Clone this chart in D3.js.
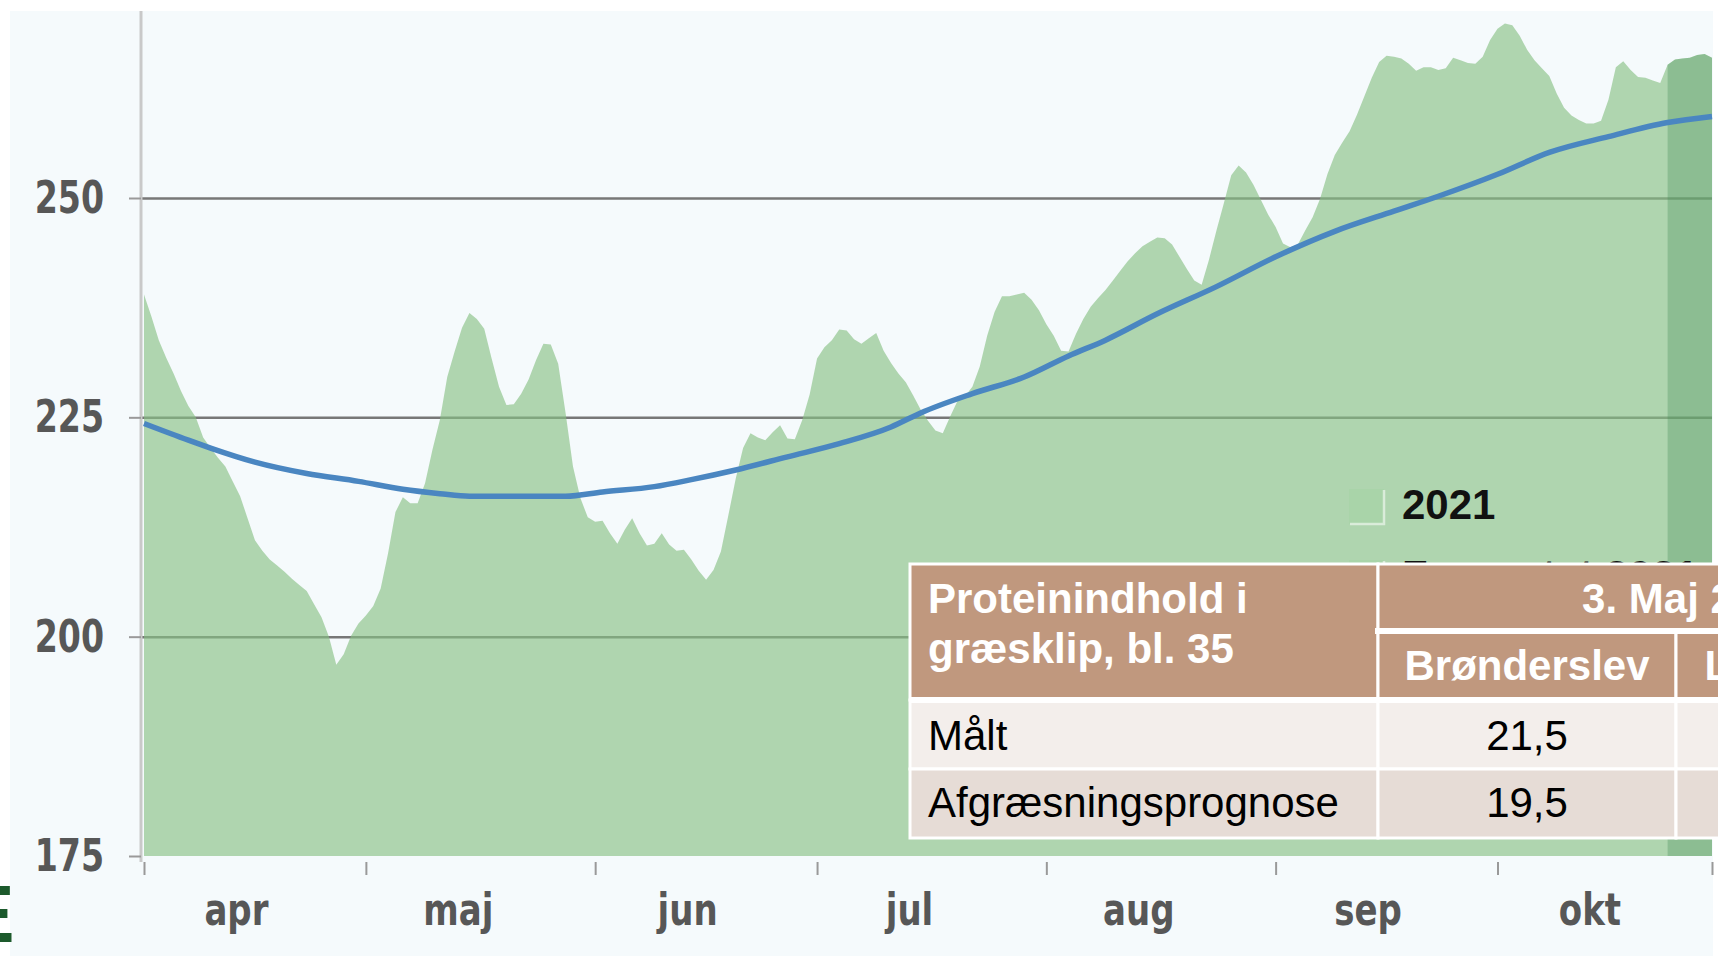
<!DOCTYPE html>
<html>
<head>
<meta charset="utf-8">
<script src="https://cdn.jsdelivr.net/npm/d3@7.9.0/dist/d3.min.js"></script>
<style>
  body { margin: 0; background: #fff; }
  svg { display: block; }
  .axis text { font-family: "Liberation Sans Narrow", "DejaVu Sans Condensed", "Arial Narrow", sans-serif; font-weight: bold; fill: #575757; font-size: 45px; }
  .tbl text { font-family: "Liberation Sans", Arial, sans-serif; font-size: 42px; }
</style>
</head>
<body>
<svg id="chart" width="1718" height="956"></svg>
<script>
// daily values 2021 (1 Apr - 30 Oct)
const aprValues = [239.0, 236.5, 233.8, 231.8, 230.0, 228.0, 226.3, 225.0, 222.7, 221.5,
  220.4, 219.4, 217.7, 216.0, 213.5, 211.0, 209.8, 208.8, 208.1, 207.4,
  206.6, 205.9, 205.2, 203.7, 202.2, 200.0, 196.8, 198.0, 200.1, 201.5];
const majValues = [202.4, 203.5, 205.5, 209.5, 214.2, 215.9, 215.2, 215.2, 217.5, 221.3,
  224.7, 229.6, 232.5, 235.2, 236.9, 236.2, 235.1, 231.7, 228.5, 226.4,
  226.5, 227.7, 229.3, 231.5, 233.4, 233.3, 231.1, 225.5, 219.4, 215.8, 213.6];
const junValues = [213.1, 213.2, 211.8, 210.6, 212.2, 213.5, 211.8, 210.4, 210.6, 211.8,
  210.5, 209.8, 209.9, 208.8, 207.5, 206.5, 207.6, 209.7, 213.8, 218.0,
  221.5, 223.2, 222.7, 222.4, 223.3, 224.1, 222.6, 222.5, 224.7, 227.6];
const julValues = [231.7, 233.0, 233.8, 235.0, 234.9, 233.9, 233.4, 234.0, 234.6, 232.6,
  231.2, 230.0, 229.0, 227.5, 225.9, 224.6, 223.5, 223.2, 225.1, 226.9,
  227.4, 228.5, 230.8, 234.3, 237.0, 238.8, 238.8, 239.0, 239.2, 238.4, 237.2];
const augValues = [235.6, 234.3, 232.6, 232.5, 234.5, 236.2, 237.6, 238.6, 239.5, 240.6,
  241.7, 242.8, 243.7, 244.5, 245.0, 245.5, 245.4, 244.7, 243.3, 241.9,
  240.6, 240.1, 243.0, 246.3, 249.4, 252.6, 253.7, 252.9, 251.5, 249.8, 248.1];
const sepValues = [246.7, 244.8, 244.4, 244.7, 246.3, 247.8, 249.9, 252.7, 254.9, 256.3,
  257.6, 259.5, 261.6, 263.7, 265.5, 266.2, 266.1, 265.9, 265.3, 264.5,
  264.9, 264.9, 264.6, 264.8, 266.0, 265.7, 265.4, 265.3, 266.1, 268.0];
const oktValues = [269.3, 269.9, 269.7, 268.5, 266.9, 265.7, 264.8, 263.9, 261.9, 260.3,
  259.4, 258.9, 258.5, 258.5, 258.8, 261.2, 264.9, 265.6, 264.6, 263.8,
  263.7, 263.4, 263.1, 265.2, 265.8, 265.9, 266.0, 266.3, 266.4, 266.0];

// expected curve (blue line)
const lineDates = ['2021-04-01', '2021-04-07', '2021-04-10', '2021-04-16', '2021-04-23', '2021-04-30',
  '2021-05-06', '2021-05-11', '2021-05-15', '2021-05-28', '2021-06-02', '2021-06-09', '2021-06-14',
  '2021-06-20', '2021-06-27', '2021-07-04', '2021-07-11', '2021-07-15', '2021-07-22', '2021-07-29',
  '2021-08-04', '2021-08-09', '2021-08-16', '2021-08-24', '2021-09-01', '2021-09-09', '2021-09-17',
  '2021-09-23', '2021-10-01', '2021-10-08', '2021-10-16', '2021-10-24', '2021-10-30'];
const lineValues = [224.3, 222.4, 221.5, 219.9, 218.6, 217.7,
  216.8, 216.3, 216.0, 216.0, 216.5, 217.1, 217.9,
  219.0, 220.5, 222.0, 223.9, 225.5, 227.7, 229.6,
  232.0, 233.8, 236.8, 239.9, 243.3, 246.2, 248.5,
  250.2, 252.7, 255.2, 257.0, 258.6, 259.3];

const monthLabels = ['apr', 'maj', 'jun', 'jul', 'aug', 'sep', 'okt'];
const monthStarts = ['2021-04-01', '2021-05-01', '2021-06-01', '2021-07-01', '2021-08-01', '2021-09-01', '2021-10-01'];
const yTicks = [175, 200, 225, 250];
const gridValues = [200, 225, 250];
const bandStart = '2021-10-24';
const legendLabels = ['2021', 'Forventet 2021'];

const tableTitle = ['Proteinindhold i', 'græsklip, bl. 35'];
const tableDate = '3. Maj 2021';
const tableSites = ['Brønderslev', 'Lemvig'];
const tableRows = ['Målt', 'Afgræsningsprognose'];
const tableValues = ['21,5', '19,5'];

const parse = d3.timeParse('%Y-%m-%d');
const start = parse('2021-04-01'), end = parse('2021-10-30');
const daily = [].concat(aprValues, majValues, junValues, julValues, augValues, sepValues, oktValues)
  .map((v, i) => ({ date: d3.timeDay.offset(start, i), value: v }));
const expected = lineDates.map((d, i) => ({ date: parse(d), value: lineValues[i] }));

const svg = d3.select('#chart');
const plot = { left: 144, right: 1712, top: 11, bottom: 856 };

const x = d3.scaleTime().domain([start, end]).range([plot.left, plot.right]);
const y = d3.scaleLinear().domain([175, 250]).range([856, 198]);

// narrow the fallback font so the labels look condensed like the original
function squeeze(sel, k) {
  sel.each(function () {
    const w = this.getComputedTextLength();
    d3.select(this).attr('textLength', w * k).attr('lengthAdjust', 'spacingAndGlyphs');
  });
}

// background
svg.append('rect').attr('x', 10).attr('y', plot.top).attr('width', 1703).attr('height', 956 - plot.top)
  .attr('fill', '#f5fafc');

// gridlines
svg.append('g').attr('transform', `translate(${plot.left - 2},0)`)
  .call(d3.axisLeft(y).tickValues(gridValues).tickSize(-(plot.right - plot.left + 2)).tickFormat(''))
  .call(g => g.select('.domain').remove())
  .call(g => g.selectAll('line').attr('stroke', '#777').attr('stroke-width', 2.5));

// 2021 area + darker last week
const area = d3.area().x(d => x(d.date)).y0(y(175)).y1(d => y(d.value));
svg.append('path').datum(daily).attr('d', area)
  .attr('fill', 'rgb(134,193,131)').attr('fill-opacity', 0.64);
svg.append('path').datum(daily.filter(d => d.date >= parse(bandStart))).attr('d', area)
  .attr('fill', 'rgb(60,135,80)').attr('fill-opacity', 0.3);

// expected line
svg.append('path').datum(expected)
  .attr('d', d3.line().curve(d3.curveMonotoneX).x(d => x(d.date)).y(d => y(d.value)))
  .attr('fill', 'none').attr('stroke', '#4a86c1').attr('stroke-width', 5.5)
  .attr('stroke-linejoin', 'round');

// y axis
svg.append('line').attr('x1', 141).attr('x2', 141).attr('y1', plot.top).attr('y2', 862)
  .attr('stroke', '#c9c9c9').attr('stroke-width', 3);
svg.append('g').attr('class', 'axis').attr('transform', 'translate(141,0)')
  .call(d3.axisLeft(y).tickValues(yTicks).tickSize(12).tickPadding(25))
  .call(g => g.select('.domain').remove())
  .call(g => g.selectAll('line').attr('stroke', '#9a9a9a').attr('stroke-width', 2))
  .call(g => squeeze(g.selectAll('text'), 0.82));

// x axis
svg.append('g').attr('transform', 'translate(0,862)')
  .call(d3.axisBottom(x).tickValues(monthStarts.map(parse).concat([end])).tickSize(13).tickFormat(''))
  .call(g => g.select('.domain').remove())
  .call(g => g.selectAll('line').attr('stroke', '#999').attr('stroke-width', 2));
svg.append('g').attr('class', 'axis').selectAll('text').data(monthStarts).join('text')
  .attr('x', d => x(d3.timeHour.offset(parse(d), 300)))
  .attr('y', 925).attr('text-anchor', 'middle')
  .text((d, i) => monthLabels[i])
  .call(s => squeeze(s, 0.84));

// legend
const legend = svg.append('g').attr('transform', 'translate(1349,489)')
  .selectAll('g').data(legendLabels).join('g')
  .attr('transform', (d, i) => `translate(0,${i * 71})`);
legend.append('rect').attr('width', 35).attr('height', 35).attr('fill', '#a9d4a9');
legend.append('path').attr('d', 'M1,35H35V1')
  .attr('fill', 'none').attr('stroke', 'rgba(255,255,255,0.55)').attr('stroke-width', 2.5);
legend.append('text').attr('x', 53).attr('y', 30).text(d => d)
  .attr('font-family', '"Liberation Sans", Arial, sans-serif').attr('font-weight', 'bold')
  .attr('font-size', 42).attr('fill', '#111');

// table
const cols = [910, 1378, 1676, 1880, 2008];
const rows = [564, 631, 700, 769, 838];
const brown = '#c0987e';
const rowFills = ['#f3eeeb', '#e6dcd6'];
const tbl = svg.append('g').attr('class', 'tbl');
const cell = (x0, y0, x1, y1, fill) => tbl.append('rect')
  .attr('x', x0).attr('y', y0).attr('width', x1 - x0).attr('height', y1 - y0)
  .attr('fill', fill).attr('stroke', '#fff').attr('stroke-width', 3);

cell(cols[0], rows[0], cols[1], rows[2], brown);
cell(cols[1], rows[0], cols[4], rows[1], brown);
[0, 1, 2].forEach(j => cell(cols[1 + j], rows[1], cols[2 + j], rows[2], brown));
tableRows.forEach((r, i) => {
  [0, 1, 2, 3].forEach(j => cell(cols[j], rows[2 + i], cols[j + 1], rows[3 + i], rowFills[i]));
});
tbl.append('line').attr('x1', cols[0]).attr('x2', cols[4]).attr('y1', rows[2]).attr('y2', rows[2])
  .attr('stroke', '#fff').attr('stroke-width', 6);
tbl.append('line').attr('x1', cols[1] - 3).attr('x2', cols[4]).attr('y1', rows[1]).attr('y2', rows[1])
  .attr('stroke', '#fff').attr('stroke-width', 6);

tbl.selectAll('text.title').data(tableTitle).join('text').attr('class', 'title')
  .attr('x', 928).attr('y', (d, i) => 613 + i * 50).attr('fill', '#fff').attr('font-weight', 'bold')
  .text(d => d);
tbl.append('text').attr('x', (cols[1] + cols[4]) / 2).attr('y', 613).attr('text-anchor', 'middle')
  .attr('fill', '#fff').attr('font-weight', 'bold').text(tableDate);
tbl.selectAll('text.site').data(tableSites).join('text').attr('class', 'site')
  .attr('x', (d, i) => (cols[1 + i] + cols[2 + i]) / 2).attr('y', 680).attr('text-anchor', 'middle')
  .attr('fill', '#fff').attr('font-weight', 'bold').text(d => d);
tbl.selectAll('text.row').data(tableRows).join('text').attr('class', 'row')
  .attr('x', 928).attr('y', (d, i) => 750 + i * 67).attr('fill', '#000').text(d => d);
tbl.selectAll('text.val').data(tableValues).join('text').attr('class', 'val')
  .attr('x', (cols[1] + cols[2]) / 2).attr('y', (d, i) => 750 + i * 67).attr('text-anchor', 'middle')
  .attr('fill', '#000').text(d => d);

// logo fragment at the left edge
svg.append('text').attr('x', -40).attr('y', 942).text('E')
  .attr('font-family', '"Liberation Sans", Arial, sans-serif').attr('font-weight', 'bold')
  .attr('font-size', 82).attr('fill', '#1d5a2c');
</script>
</body>
</html>
